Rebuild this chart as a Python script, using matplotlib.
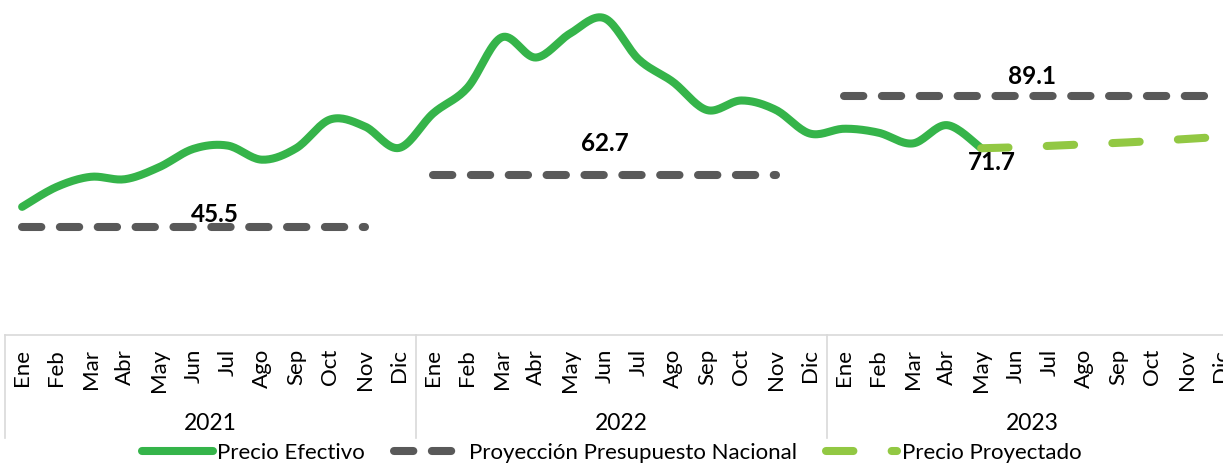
import matplotlib.pyplot as plt
import numpy as np
from matplotlib.lines import Line2D
from matplotlib.transforms import blended_transform_factory

months = ["Ene", "Feb", "Mar", "Abr", "May", "Jun",
          "Jul", "Ago", "Sep", "Oct", "Nov", "Dic"]
years = ["2021", "2022", "2023"]

# precio efectivo, Ene 2021 .. May 2023
precio_efectivo = [52.2, 58.8, 62.2, 61.4, 65.4, 71.5, 72.6, 67.9, 71.7, 81.3, 79.0, 71.8,
                   83.3, 91.8, 108.6, 101.9, 109.9, 115.0, 101.3, 93.8, 84.4, 87.6, 84.5, 76.6,
                   78.2, 76.9, 73.3, 79.4, 71.7]
# precio proyectado, May 2023 .. Dic 2023
precio_proyectado = [71.7, 72.0, 72.5, 73.0, 73.5, 74.1, 74.8, 75.5]
# proyeccion presupuesto nacional por año y meses cubiertos
presupuesto = [45.5, 62.7, 89.1]
presupuesto_meses = [11, 11, 12]

GREEN = "#35B44A"
LIGHT = "#92C843"
GRAY = "#595959"
GRID = "#D9D9D9"
FONT = "Lato"

plt.rcParams["font.family"] = [FONT, "DejaVu Sans"]


def smooth(y, n=20):
    # excel style smoothed line (catmull-rom bezier)
    y = np.asarray(y, dtype=float)
    x = np.arange(len(y), dtype=float)
    p = np.column_stack([x, y])
    pts = np.vstack([p[0], p, p[-1]])
    out = []
    for i in range(1, len(pts) - 2):
        p0, p1, p2, p3 = pts[i - 1], pts[i], pts[i + 1], pts[i + 2]
        c1 = p1 + (p2 - p0) / 6
        c2 = p2 - (p3 - p1) / 6
        t = np.linspace(0, 1, n)[:, None]
        seg = ((1 - t) ** 3) * p1 + 3 * ((1 - t) ** 2) * t * c1 + 3 * (1 - t) * t ** 2 * c2 + t ** 3 * p2
        out.append(seg if i == 1 else seg[1:])
    out = np.vstack(out)
    return out[:, 0], out[:, 1]


W, H = 1223, 463
fig = plt.figure(figsize=(W / 100, H / 100), dpi=100)
ax_bottom_px = 335
year_px = 411
ax = fig.add_axes([5 / W, (H - ax_bottom_px) / H, 3 * year_px / W, ax_bottom_px / H])

n_total = len(months) * len(years)
lw = 5.8

# presupuesto nacional
start = 0
for level, nm in zip(presupuesto, presupuesto_meses):
    xs = np.arange(start, start + nm)
    ax.plot(xs, [level] * nm, color=GRAY, lw=lw, dashes=(2.4, 2.3),
            dash_capstyle="round", solid_capstyle="round", zorder=2)
    start += 12

# precio efectivo
sx, sy = smooth(precio_efectivo)
ax.plot(sx, sy, color=GREEN, lw=lw, solid_capstyle="round", zorder=3)

# precio proyectado
p0 = len(precio_efectivo) - 1
px, py = smooth(precio_proyectado)
ax.plot(px + p0, py, color=LIGHT, lw=lw, dashes=(3.4, 4.75),
        dash_capstyle="round", zorder=4)

# labels
lab_kw = dict(textcoords="offset points", ha="center", va="center",
              fontsize=17.5, fontweight="bold", color="black", zorder=5)
ax.annotate(f"{presupuesto[0]}", xy=(5.64, presupuesto[0]), xytext=(0, 9), **lab_kw)
ax.annotate(f"{presupuesto[1]}", xy=(17, presupuesto[1]), xytext=(0, 23), **lab_kw)
ax.annotate(f"{presupuesto[2]}", xy=(29.48, presupuesto[2]), xytext=(0, 14), **lab_kw)
ax.annotate(f"{precio_proyectado[0]}", xy=(p0, precio_proyectado[0]), xytext=(8, -10), **lab_kw)

ax.set_xlim(-0.5, n_total - 0.5)
ax.set_ylim(9.56, 121.04)

for s in ["top", "left", "right"]:
    ax.spines[s].set_visible(False)
ax.spines["bottom"].set_color(GRID)
ax.spines["bottom"].set_linewidth(1.2)
ax.set_yticks([])
ax.set_xticks(range(n_total))
ax.set_xticklabels(months * len(years), rotation=90, fontsize=16, va="top")
ax.tick_params(axis="x", length=0, pad=10)

# year groups
trans = blended_transform_factory(ax.transData, ax.transAxes)
sep_depth = -(438 - ax_bottom_px) / ax_bottom_px
for k in range(len(years) + 1):
    xb = k * 12 - 0.5
    ax.add_line(Line2D([xb, xb], [0, sep_depth], transform=trans, color=GRID,
                       lw=1.2, clip_on=False))
for k, yr in enumerate(years):
    ax.text(k * 12 + 5.5, -(424 - ax_bottom_px) / ax_bottom_px, yr, transform=trans,
            ha="center", va="center", fontsize=16.5)

handles = [
    Line2D([], [], color=GREEN, lw=lw, solid_capstyle="round"),
    Line2D([], [], color=GRAY, lw=lw, dashes=(2.4, 2.3), dash_capstyle="round"),
    Line2D([], [], color=LIGHT, lw=lw, dashes=(3.4, 4.75), dash_capstyle="round"),
]
fig.legend(handles, ["Precio Efectivo", "Proyección Presupuesto Nacional", "Precio Proyectado"],
           loc="center", bbox_to_anchor=(0.5, 10 / H), ncol=3, frameon=False,
           fontsize=16, handlelength=3.2, handletextpad=0.2, columnspacing=1.3,
           borderaxespad=0, borderpad=0)

fig.savefig("out.png", dpi=100)
